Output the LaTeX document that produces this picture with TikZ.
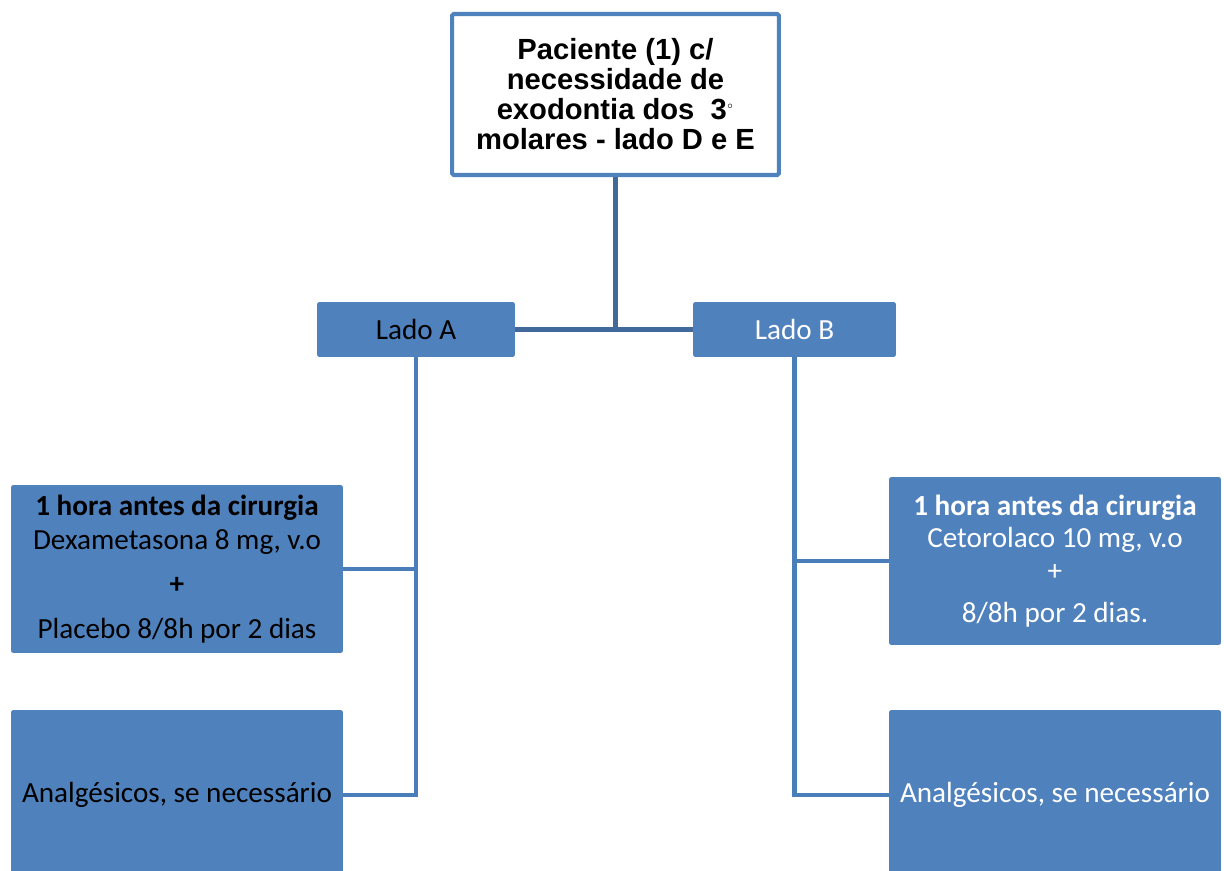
\documentclass[tikz,border=0pt]{standalone}
\usepackage{fontspec}
\setmainfont{Carlito}
\newfontfamily\arialfont{Liberation Sans}
\definecolor{boxblue}{HTML}{4F81BD}
\definecolor{linkblue}{HTML}{4A7EBB}
\definecolor{stemblue}{HTML}{41699A}
\begin{document}
\begin{tikzpicture}[x=0.02cm,y=-0.02cm,
    bluebox/.style={rectangle, rounded corners=1pt, fill=boxblue, inner sep=0pt,
      align=center, font=\fontsize{16.6}{19.4}\selectfont},
    link/.style={draw=linkblue, line width=2.3pt},
    stem/.style={draw=stemblue, line width=2.3pt}]
  \useasboundingbox (0,0) rectangle (1224,871);
  % top box
  \node[rectangle, draw=boxblue, line width=2.3pt, fill=white, rounded corners=1pt,
        minimum width=327cm/50, minimum height=161cm/50, align=center,
        font=\arialfont\bfseries\fontsize{16.6}{17.1}\selectfont] (pac) at (615.5,94.5)
    {Paciente (1) c/\\necessidade de\\exodontia dos\ \ 3\textsuperscript{\normalfont\tiny$\circ$}\\molares - lado D e E};
  % the two sides
  \node[bluebox, minimum width=198cm/50, minimum height=55cm/50] (ladoA) at (416,329.5) {Lado A};
  \node[bluebox, text=white, minimum width=203cm/50, minimum height=55cm/50] (ladoB) at (794.5,329.5) {Lado B};
  % left column
  \node[bluebox, minimum width=332cm/50, minimum height=168cm/50] (dexa) at (177,569)
    {\textbf{1 hora antes da cirurgia}\\Dexametasona 8 mg, v.o\\[5.7pt]\textbf{+}\\[5.7pt]Placebo 8/8h por 2 dias};
  \node[bluebox, minimum width=332cm/50, minimum height=170cm/50] (analgA) at (177,795)
    {Analgésicos, se necessário};
  % right column
  \node[bluebox, text=white, minimum width=332cm/50, minimum height=168cm/50,
        font=\fontsize{16.6}{18.5}\selectfont] (ceto) at (1055,561)
    {\textbf{1 hora antes da cirurgia}\\Cetorolaco 10 mg, v.o\\+\\[5.7pt]8/8h por 2 dias.};
  \node[bluebox, text=white, minimum width=332cm/50, minimum height=170cm/50] (analgB) at (1055,795)
    {Analgésicos, se necessário};
  % connectors
  \draw[stem] (pac.south) -- (pac.south |- ladoA.east);
  \draw[stem] (ladoA.east) -- (ladoB.west);
  \draw[link] (ladoA.south) -- (ladoA.south |- analgA.east) -- (analgA.east);
  \draw[link] (dexa.east) -- (dexa.east -| ladoA.south);
  \draw[link] (ladoB.south) -- (ladoB.south |- analgB.west) -- (analgB.west);
  \draw[link] (ceto.west) -- (ceto.west -| ladoB.south);
\end{tikzpicture}
\end{document}
